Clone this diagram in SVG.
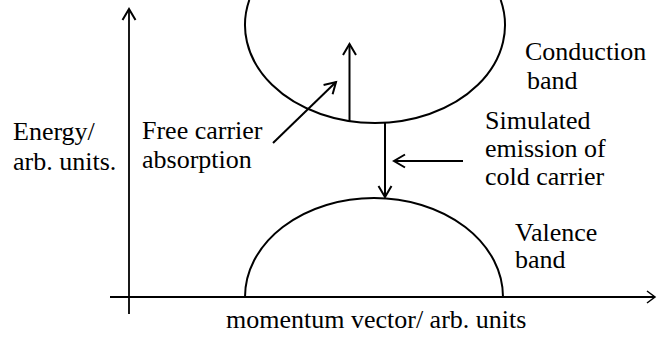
<svg xmlns="http://www.w3.org/2000/svg" width="658" height="337" viewBox="0 0 658 337">
<style>
.ln{fill:none;stroke:#000;stroke-width:2}
.ax{fill:none;stroke:#000;stroke-width:1.8}
</style>
<defs>
<marker id="ah" markerUnits="userSpaceOnUse" markerWidth="20" markerHeight="20" viewBox="-14 -10 16 20" refX="0" refY="0" orient="auto">
<path d="M-11,-6.5 L0,0 L-11,6.5" fill="none" stroke="#000" stroke-width="2"/>
</marker>
<marker id="ah2" markerUnits="userSpaceOnUse" markerWidth="20" markerHeight="20" viewBox="-14 -10 16 20" refX="0" refY="0" orient="auto">
<path d="M-8,-6 L0,0 L-8,6" fill="none" stroke="#000" stroke-width="1.5"/>
</marker>
</defs>
<rect width="658" height="337" fill="#fff"/>
<g id="axes">
<line class="ax" x1="129" y1="314" x2="129" y2="9" marker-end="url(#ah)"/>
<line class="ax" x1="110" y1="297" x2="655" y2="297" marker-end="url(#ah2)"/>
</g>
<g id="conduction-band">
<path class="ln" d="M249.3,0 A130,98 0 1 0 500.7,0"/>
<text x="525" y="60" font-family="Liberation Serif" font-size="26" fill="#000">Conduction</text>
<text x="527" y="89" font-family="Liberation Serif" font-size="26" fill="#000">band</text>
</g>
<g id="valence-band">
<path class="ln" d="M245,297 A129,99 0 0 1 503,297"/>
<text x="515" y="241" font-family="Liberation Serif" font-size="26" fill="#000">Valence</text>
<text x="515" y="268" font-family="Liberation Serif" font-size="26" fill="#000">band</text>
</g>
<g id="labels">
<text x="13" y="140" font-family="Liberation Serif" font-size="26" fill="#000">Energy/</text>
<text x="13" y="170" font-family="Liberation Serif" font-size="26" fill="#000">arb. units.</text>
<text x="142" y="139" font-family="Liberation Serif" font-size="26" fill="#000">Free carrier</text>
<text x="142" y="168" font-family="Liberation Serif" font-size="26" fill="#000">absorption</text>
<text x="485" y="129" font-family="Liberation Serif" font-size="26" fill="#000">Simulated</text>
<text x="485" y="157" font-family="Liberation Serif" font-size="26" fill="#000">emission of</text>
<text x="485" y="185" font-family="Liberation Serif" font-size="26" fill="#000">cold carrier</text>
<text x="226" y="328" font-family="Liberation Serif" font-size="26" fill="#000">momentum vector/ arb. units</text>
</g>
<g id="connectors">
<line class="ln" x1="349.5" y1="121" x2="349.5" y2="44" marker-end="url(#ah)"/>
<line class="ln" x1="273" y1="143" x2="336" y2="82" marker-end="url(#ah)"/>
<line class="ln" x1="385" y1="122" x2="385" y2="197" marker-end="url(#ah)"/>
<line class="ln" x1="463" y1="161" x2="394" y2="161" marker-end="url(#ah)"/>
</g>
</svg>
